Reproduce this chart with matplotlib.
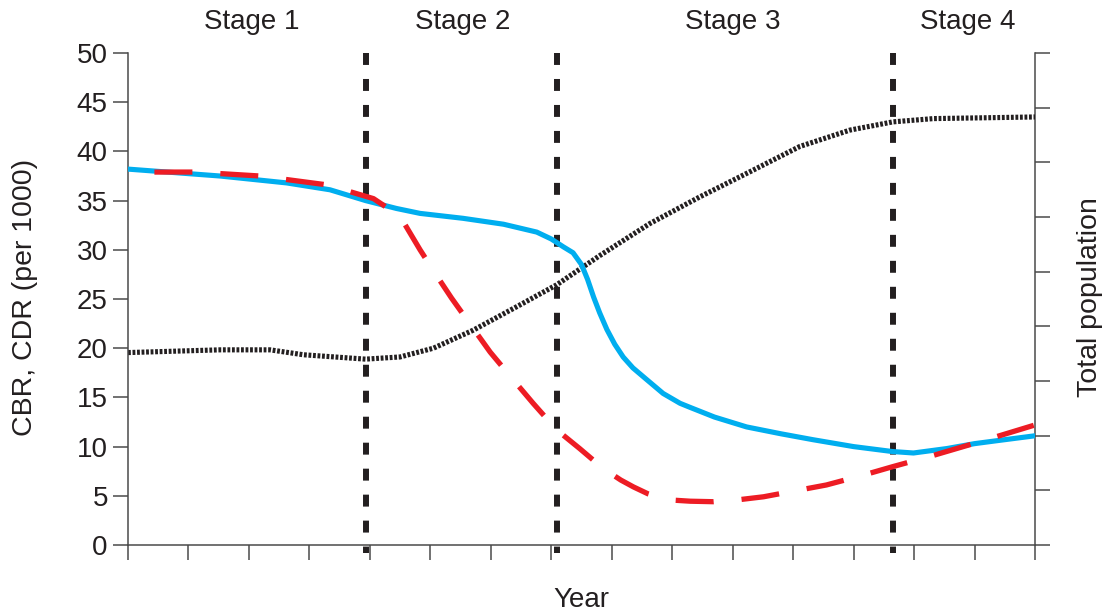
import matplotlib
matplotlib.use("Agg")
import matplotlib.pyplot as plt

plt.rcParams['font.family'] = ['Liberation Sans', 'DejaVu Sans']

# crude birth rate (per 1000)
cbr_x = [0, 1.52, 2.62, 3.34, 3.93, 4.44, 4.83, 5.54, 6.21, 6.76, 7.0, 7.2, 7.36, 7.5, 7.6, 7.7,
         7.8, 7.92, 8.05, 8.19, 8.35, 8.58, 8.85, 9.13, 9.29, 9.7, 10.23, 10.8, 11.33, 12.0,
         12.64, 12.99, 13.54, 14.0, 14.37, 15]
cbr_y = [38.2, 37.5, 36.8, 36.1, 35.0, 34.2, 33.7, 33.2, 32.6, 31.8, 31.1, 30.3, 29.7, 28.5, 27.0, 25.2,
         23.6, 21.9, 20.4, 19.1, 18.0, 16.8, 15.4, 14.4, 14.0, 13.0, 12.0, 11.3, 10.7, 10.0,
         9.5, 9.35, 9.8, 10.3, 10.6, 11.1]

# crude death rate (per 1000)
cdr_x = [0, 1.11, 2.18, 3.29, 4.06, 4.5, 4.83, 5.08, 5.35, 5.71, 5.99, 6.37, 6.7, 7.09, 7.47,
         7.7, 7.94, 8.15, 8.36, 8.6, 8.91, 9.3, 9.68, 10.1, 10.51, 11.55, 12.16, 12.64, 13.26, 14.09, 15]
cdr_y = [37.9, 37.9, 37.5, 36.6, 35.2, 33.4, 30.0, 27.6, 25.1, 22.0, 19.6, 16.8, 14.4, 11.7, 9.8,
         8.6, 7.45, 6.6, 5.9, 5.2, 4.6, 4.45, 4.4, 4.6, 4.9, 6.1, 7.1, 7.95, 9.0, 10.5, 12.2]

# total population (right axis, unlabelled units)
pop_x = [0, 1.52, 2.35, 2.9, 3.93, 4.5, 5.05, 5.71, 6.43, 7.09, 7.81, 8.63, 9.46, 10.29, 11.11,
         11.94, 12.65, 13.32, 15]
pop_y = [3.52, 3.57, 3.57, 3.48, 3.40, 3.44, 3.60, 3.93, 4.36, 4.76, 5.30, 5.88, 6.37, 6.83, 7.29,
         7.59, 7.74, 7.80, 7.83]

stage_breaks = [3.93, 7.09, 12.65]
stage_names = ["Stage 1", "Stage 2", "Stage 3", "Stage 4"]
stage_label_x = [2.05, 5.54, 10.0, 13.89]

txt = "#231f20"
spine = "#4a4a4a"

fig = plt.figure(figsize=(11.08, 6.16), dpi=100)
ax = fig.add_axes([128 / 1108, 1 - 545 / 616, 907 / 1108, 492 / 616])
ax2 = ax.twinx()

ax.set_xlim(0, 15)
ax.set_ylim(0, 50)
ax2.set_ylim(0, 9)

for a in (ax, ax2):
    a.spines['top'].set_visible(False)
    for s in a.spines.values():
        s.set_color(spine)
        s.set_linewidth(1.1)
ax.spines['right'].set_visible(False)
ax2.spines['left'].set_visible(False)
ax2.spines['bottom'].set_visible(False)

ax.set_xticks(range(16))
ax.set_xticklabels([])
ax.set_yticks(range(0, 51, 5))
ax.tick_params(axis='both', length=10.5, width=1.1, color=spine, labelsize=20, labelcolor=txt, pad=4)
ax2.set_yticks(range(10))
ax2.set_yticklabels([])
ax2.tick_params(axis='y', length=10.5, width=1.1, color=spine)

for b in stage_breaks:
    ax.plot([b, b], [50, -0.8], color="#231f20", lw=4.3, linestyle=(0, (2.0, 2.35)),
            clip_on=False, zorder=2)

ax2.plot(pop_x, pop_y, color="#231f20", lw=3.7, linestyle=(0, (0.55, 0.33)), zorder=3)
ax.plot(cbr_x, cbr_y, color="#00aeef", lw=3.7, solid_joinstyle='round', zorder=4)
ax.plot(cdr_x, cdr_y, color="#ed1c24", lw=3.8, linestyle=(-5, (7.2, 5.3)), zorder=5)
ax.set_zorder(ax2.get_zorder() + 1)
ax.patch.set_visible(False)

for name, sx in zip(stage_names, stage_label_x):
    ax.text(sx, 1.063, name, transform=ax.get_xaxis_transform(), ha='center', va='center',
            fontsize=20, color=txt)

ax.text(0.5, -0.112, "Year", transform=ax.transAxes, ha='center', va='center', fontsize=20, color=txt)
ax.text(-0.1136, 0.504, "CBR, CDR (per 1000)", transform=ax.transAxes, ha='center', va='center',
        rotation=90, fontsize=20.5, color=txt)
ax.text(1.0607, 0.504, "Total population", transform=ax.transAxes, ha='center', va='center',
        rotation=90, fontsize=20.5, color=txt)

fig.savefig("out.png", dpi=100)
